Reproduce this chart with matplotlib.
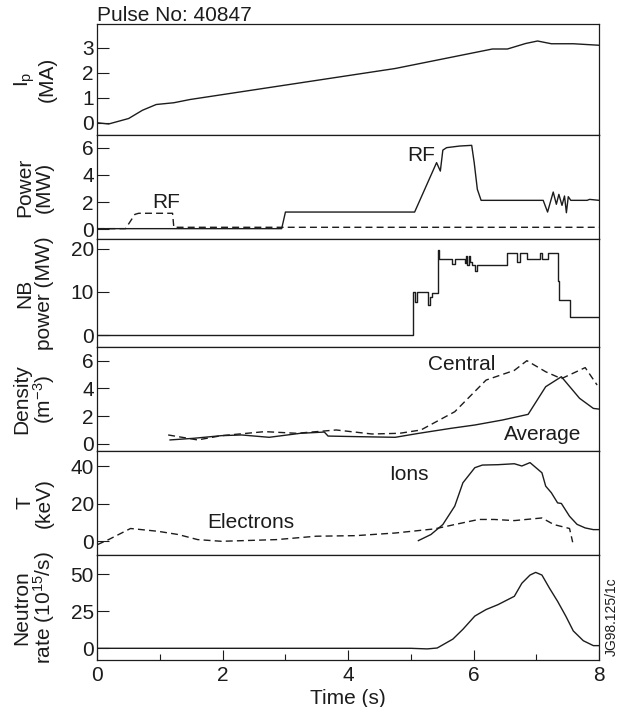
import matplotlib
matplotlib.use("Agg")
import matplotlib.pyplot as plt
from matplotlib.ticker import MultipleLocator, FixedLocator

plt.rcParams['font.family'] = ['Liberation Sans', 'DejaVu Sans']
plt.rcParams['mathtext.fontset'] = 'custom'
plt.rcParams['mathtext.rm'] = 'Liberation Sans'
plt.rcParams['mathtext.it'] = 'Liberation Sans:italic'
plt.rcParams['mathtext.default'] = 'regular'

# ---------------- data ----------------
ip_t = [0, 0.18, 0.5, 0.72, 0.94, 1.22, 1.48, 4.75, 6.30, 6.54, 6.83, 7.02, 7.24, 7.59, 8.0]
ip_v = [0, -0.05, 0.17, 0.5, 0.73, 0.8, 0.93, 2.17, 2.95, 2.95, 3.17, 3.27, 3.16, 3.16, 3.1]

pw_t = [0, 2.94, 3.0, 5.06, 5.41, 5.47, 5.51, 5.57, 5.78, 5.97, 6.01, 6.06, 6.12,
        7.11, 7.18, 7.27, 7.32, 7.36, 7.41, 7.45, 7.48, 7.51, 7.55, 7.81, 7.85, 8.0]
pw_v = [0.05, 0.05, 1.27, 1.27, 4.9, 4.28, 5.82, 6.0, 6.12, 6.17, 4.9, 2.94, 2.13,
        2.13, 1.27, 2.74, 1.84, 2.57, 1.76, 2.45, 1.22, 2.4, 2.13, 2.13, 2.2, 2.13]
rf_t = [0, 0.45, 0.6, 0.66, 1.2, 1.22, 8.0]
rf_v = [0.05, 0.05, 1.1, 1.18, 1.18, 0.15, 0.15]

nb_t = [0, 5.03, 5.06, 5.09, 5.27, 5.30, 5.34, 5.43, 5.45, 5.66, 5.70, 5.86, 5.88, 5.90,
        5.92, 5.94, 5.97, 6.03, 6.06, 6.53, 6.69, 6.74, 6.85, 7.06, 7.09, 7.19, 7.35,
        7.37, 7.53, 8.0]
nb_v = [0, 10, 7.7, 10, 6.9, 8.7, 9.7, 19.7, 17.7, 16.4, 17.7, 16.6, 18.4, 16.2,
        18.2, 17.0, 16.2, 14.8, 16.2, 19.1, 17.0, 19.1, 17.5, 19.1, 17.5, 19.1, 12.6,
        8.1, 4.2, 4.2]

avg_t = [1.16, 1.54, 1.98, 2.3, 2.74, 3.24, 3.62, 3.68, 4.12, 4.75, 5.13, 5.64, 6.02,
         6.46, 6.87, 7.15, 7.4, 7.69, 7.91, 8.0]
avg_v = [0.27, 0.39, 0.58, 0.63, 0.46, 0.75, 0.84, 0.55, 0.51, 0.46, 0.75, 1.11, 1.35,
         1.71, 2.12, 4.12, 4.84, 3.28, 2.55, 2.5]
cen_t = [1.13, 1.6, 1.98, 2.67, 3.18, 3.81, 4.38, 4.82, 5.16, 5.7, 6.2, 6.65, 6.85,
         7.15, 7.4, 7.78, 7.97]
cen_v = [0.63, 0.27, 0.58, 0.87, 0.75, 0.99, 0.7, 0.75, 0.99, 2.31, 4.6, 5.3, 6.0,
         5.2, 4.7, 5.5, 4.24]

ion_t = [5.12, 5.32, 5.51, 5.7, 5.83, 6.02, 6.14, 6.39, 6.65, 6.77, 6.9, 7.09, 7.15,
         7.24, 7.34, 7.4, 7.53, 7.65, 7.78, 7.91, 8.0]
ion_v = [0.36, 3.6, 8.9, 18.7, 31.1, 39.1, 40.5, 40.7, 41.2, 40.0, 41.8, 36.4, 29.3,
         25.8, 20.4, 20.1, 13.3, 9.0, 7.1, 6.2, 6.2]
ele_t = [0, 0.18, 0.53, 0.97, 1.29, 1.6, 1.98, 2.86, 3.49, 4.12, 4.75, 5.38, 5.7,
         6.08, 6.33, 6.65, 7.09, 7.28, 7.53, 7.56, 7.58]
ele_v = [-1.8, 0.9, 6.8, 5.3, 3.6, 0.9, 0.0, 0.9, 2.7, 3.0, 4.4, 6.6, 8.9, 11.6,
         11.6, 11.0, 12.4, 8.9, 6.8, 2.5, -0.5]

neu_t = [0, 5.0, 5.26, 5.42, 5.67, 5.83, 6.02, 6.2, 6.39, 6.65, 6.77, 6.9, 6.99, 7.09,
         7.21, 7.34, 7.47, 7.59, 7.75, 7.91, 8.0]
neu_v = [0, 0, -0.4, 0.2, 6.2, 12.8, 21.7, 26.1, 29.4, 35, 43.8, 49.3, 51.1, 49.3,
         40.5, 31.6, 21.7, 11.7, 5.1, 1.8, 1.8]

ylabels = ["I$_\\mathrm{p}$\n(MA)", "Power\n(MW)", "NB\npower (MW)",
           "Density\n(m$^{-3}$)", "T\n(keV)", "Neutron\nrate (10$^{15}$/s)"]
yticks = [[0, 1, 2, 3], [0, 2, 4, 6], [0, 10, 20], [0, 2, 4, 6], [0, 20, 40], [0, 25, 50]]
ylims = [(-0.49, 3.95), (-0.71, 6.93), (-2.78, 22.25), (-0.53, 6.99), (-7.28, 47.97),
         (-7.87, 62.8)]

# ---------------- layout ----------------
W, H = 620, 707
FS = 15
fig = plt.figure(figsize=(W / 100, H / 100), dpi=100)
left_px, right_px = 97.3, 599
bounds = [(24, 135), (135, 239), (239, 347), (347, 451), (451, 555), (555, 660)]
ink = '#1c1c1c'
axes = []
for (top, bot) in bounds:
    ax = fig.add_axes([left_px / W, 1 - bot / H, (right_px - left_px) / W, (bot - top) / H])
    axes.append(ax)

for i, ax in enumerate(axes):
    ax.set_xlim(0, 8)
    ax.set_ylim(*ylims[i])
    ax.yaxis.set_major_locator(FixedLocator(yticks[i]))
    ax.tick_params(axis='y', direction='in', length=8.5, width=0.8, colors=ink,
                   labelsize=FS, pad=2.5, right=False)
    for s in ax.spines.values():
        s.set_linewidth(0.9)
        s.set_color(ink)
    ax.set_ylabel(ylabels[i], fontsize=FS, color=ink, va='center', ha='center',
                  multialignment='center', linespacing=1.0)
    ax.yaxis.set_label_coords(-0.125, 0.5)
    if i < 5:
        ax.tick_params(axis='x', bottom=False, top=False, labelbottom=False)

lw = 1.0
dash = (0, (5, 3))
axes[0].plot(ip_t, ip_v, color=ink, lw=lw)
axes[1].plot(pw_t, pw_v, color=ink, lw=lw)
axes[1].plot(rf_t, rf_v, color=ink, lw=lw, linestyle=dash)
axes[1].text(1.1, 2.0, "RF", fontsize=FS, color=ink, ha='center', va='center')
axes[1].text(5.16, 5.4, "RF", fontsize=FS, color=ink, ha='center', va='center')
axes[2].plot(nb_t, nb_v, color=ink, lw=lw, drawstyle='steps-post')
axes[3].plot(avg_t, avg_v, color=ink, lw=lw)
axes[3].plot(cen_t, cen_v, color=ink, lw=lw, linestyle=dash)
axes[3].text(5.81, 5.69, "Central", fontsize=FS, color=ink, ha='center', va='center')
axes[3].text(7.1, 0.63, "Average", fontsize=FS, color=ink, ha='center', va='center')
axes[4].plot(ion_t, ion_v, color=ink, lw=lw)
axes[4].plot(ele_t, ele_v, color=ink, lw=lw, linestyle=dash)
axes[4].text(4.97, 35.6, "Ions", fontsize=FS, color=ink, ha='center', va='center')
axes[4].text(2.45, 9.8, "Electrons", fontsize=FS, color=ink, ha='center', va='center')
axes[5].plot(neu_t, neu_v, color=ink, lw=lw)

axb = axes[5]
axb.xaxis.set_major_locator(MultipleLocator(2))
axb.xaxis.set_minor_locator(MultipleLocator(1))
axb.tick_params(axis='x', which='major', direction='in', length=7, width=0.8,
                colors=ink, labelsize=FS, pad=4)
axb.tick_params(axis='x', which='minor', direction='in', length=4.3, width=0.8, colors=ink)
axb.set_xlabel("Time (s)", fontsize=FS, color=ink, labelpad=3)

fig.text(left_px / W, 1 - 21 / H, "Pulse No: 40847", fontsize=FS, color=ink,
         ha='left', va='baseline')
fig.text(611.5 / W, 1 - 617 / H, "JG98.125/1c", fontsize=10, color=ink,
         rotation=90, ha='center', va='center')

fig.savefig("out.png", dpi=100)
